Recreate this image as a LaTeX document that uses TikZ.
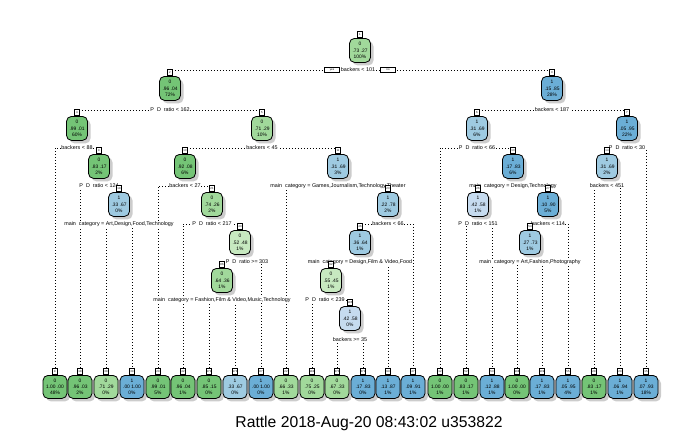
\documentclass[tikz,border=0pt]{standalone}
\usepackage{fontspec}
\setmainfont{Liberation Sans}
\usetikzlibrary{shadows,backgrounds}

% node fill colours (greens for class 0, blues for class 1)
\definecolor{gA}{HTML}{74C476}
\definecolor{gB}{HTML}{A1D99B}
\definecolor{gC}{HTML}{C7E9C0}
\definecolor{bA}{HTML}{6BAED6}
\definecolor{bB}{HTML}{9ECAE1}
\definecolor{bC}{HTML}{C6DBEF}

\newcommand\nodefont{\fontsize{4.9}{6.3}\selectfont}
\newcommand\tagfont{\fontsize{2.8}{3}\selectfont}
\newcommand\splitfont{\fontsize{5.4}{6}\selectfont}
% word gap as wide as an underscore
\newcommand\ug{\hphantom{\_}}

\tikzset{
  treebox/.style={draw=black, line width=0.8pt, rounded corners=5pt,
    minimum width=21pt, minimum height=24pt, inner sep=0.6pt,
    align=center, font=\nodefont, anchor=north,
    drop shadow={shadow xshift=3pt, shadow yshift=-3pt, fill=black!40, opacity=0.5}},
  leafbox/.style={treebox, minimum width=24pt, minimum height=23pt},
  tag/.style={draw=black, fill=white, line width=0.7pt, minimum width=5.5pt,
    minimum height=6.5pt, inner sep=0.4pt, font=\tagfont, anchor=south},
  branch/.style={line width=0.9pt, dash pattern=on 0.9pt off 2.1pt},
  splitlab/.style={fill=white, inner sep=0.5pt, font=\splitfont},
  yesno/.style={draw=black, fill=white, line width=0.7pt, minimum width=15pt,
    minimum height=5pt, inner sep=0.3pt, font=\tagfont},
}

% \tnode{name}{style}{colour}{position}{number}{text}
\newcommand\tnode[6]{%
  \node[#2, fill=#3] (#1) at #4 {#6};
  \node[tag] (#1t) at (#1.north) {#5};
}

\begin{document}
\begin{tikzpicture}[x=1pt, y=-1pt]
\useasboundingbox (0,0) rectangle (700,432);

% split labels
\node[splitlab] (s1) at (358,70) {backers < 101};
\node[yesno] (yes) at (332,70) {yes};
\node[yesno] (no) at (388,70) {no};
\node[splitlab] (s2) at (170,110) {P\ug D\ug ratio < 162};
\node[splitlab] (s3) at (552,110) {backers < 187};
\node[splitlab] (s4) at (77,148) {backers < 88};
\node[splitlab] (s5) at (262,148) {backers < 45};
\node[splitlab] (s6) at (477,148) {P\ug D\ug ratio < 66};
\node[splitlab] (s7) at (627,148) {P\ug D\ug ratio < 30};
\node[splitlab] (s9) at (99,186) {P\ug D\ug ratio < 124};
\node[splitlab] (s10) at (185,186) {backers < 27};
\node[splitlab] (s11) at (338,186) {main\ug category = Games,Journalism,Technology,Theater};
\node[splitlab] (s13) at (513,186) {main\ug category = Design,Technology};
\node[splitlab] (s14) at (607,186) {backers < 451};
\node[splitlab] (s19) at (119,224) {main\ug category = Art,Design,Food,Technology};
\node[splitlab] (s21) at (212,224) {P\ug D\ug ratio < 217};
\node[splitlab] (s23) at (388,224) {backers < 66};
\node[splitlab] (s26) at (478,224) {P\ug D\ug ratio < 151};
\node[splitlab] (s27) at (548,224) {backers < 114};
\node[splitlab] (s43) at (247,262) {P\ug D\ug ratio >= 303};
\node[splitlab] (s46) at (360,262) {main\ug category = Design,Film \& Video,Food};
\node[splitlab] (s54) at (530,262) {main\ug category = Art,Fashion,Photography};
\node[splitlab] (s86) at (222,300) {main\ug category = Fashion,Film \& Video,Music,Technology};
\node[splitlab] (s92) at (325,300) {P\ug D\ug ratio < 239};
\node[splitlab] (s185) at (350,340) {backers >= 35};

% internal nodes
\tnode{n1}{treebox}{gB}{(360,38)}{1}{0\\.73 .27\\100\%}
\tnode{n2}{treebox}{gA}{(170,76)}{2}{0\\.96 .04\\72\%}
\tnode{n3}{treebox}{bA}{(552,76)}{3}{1\\.15 .85\\28\%}
\tnode{n4}{treebox}{gA}{(77,116)}{4}{0\\.99 .01\\60\%}
\tnode{n5}{treebox}{gB}{(262,116)}{5}{0\\.71 .29\\10\%}
\tnode{n6}{treebox}{bB}{(477,116)}{6}{1\\.31 .69\\6\%}
\tnode{n7}{treebox}{bA}{(627,116)}{7}{1\\.05 .95\\22\%}
\tnode{n9}{treebox}{gA}{(99,154)}{9}{0\\.83 .17\\2\%}
\tnode{n10}{treebox}{gA}{(185,154)}{10}{0\\.92 .08\\6\%}
\tnode{n11}{treebox}{bB}{(338,154)}{11}{1\\.31 .69\\3\%}
\tnode{n13}{treebox}{bA}{(513,154)}{13}{1\\.17 .83\\6\%}
\tnode{n14}{treebox}{bB}{(607,154)}{14}{1\\.31 .69\\2\%}
\tnode{n19}{treebox}{bB}{(119,192)}{19}{1\\.33 .67\\0\%}
\tnode{n21}{treebox}{gB}{(212,192)}{21}{0\\.74 .26\\2\%}
\tnode{n23}{treebox}{bB}{(388,192)}{23}{1\\.22 .78\\2\%}
\tnode{n26}{treebox}{bC}{(478,192)}{26}{1\\.42 .58\\1\%}
\tnode{n27}{treebox}{bA}{(548,192)}{27}{1\\.10 .90\\5\%}
\tnode{n43}{treebox}{gC}{(240,230)}{43}{0\\.52 .48\\1\%}
\tnode{n46}{treebox}{bB}{(360,230)}{46}{1\\.36 .64\\1\%}
\tnode{n54}{treebox}{bB}{(530,230)}{54}{1\\.27 .73\\1\%}
\tnode{n86}{treebox}{gB}{(222,268)}{86}{0\\.64 .36\\1\%}
\tnode{n92}{treebox}{gC}{(331,268)}{92}{0\\.55 .45\\1\%}
\tnode{n185}{treebox}{bC}{(350,306)}{185}{1\\.42 .58\\0\%}

% leaves
\tnode{l8}{leafbox}{gA}{(55,375)}{8}{0\\1.00 .00\\48\%}
\tnode{l18}{leafbox}{gA}{(80,375)}{18}{0\\.96 .03\\2\%}
\tnode{l38}{leafbox}{gB}{(106,375)}{38}{0\\.71 .29\\0\%}
\tnode{l39}{leafbox}{bA}{(132,375)}{39}{1\\.00 1.00\\0\%}
\tnode{l20}{leafbox}{gA}{(158,375)}{20}{0\\.99 .01\\5\%}
\tnode{l42}{leafbox}{gA}{(183,375)}{42}{0\\.96 .04\\1\%}
\tnode{l172}{leafbox}{gA}{(209,375)}{172}{0\\.85 .15\\0\%}
\tnode{l173}{leafbox}{bB}{(235,375)}{173}{1\\.33 .67\\0\%}
\tnode{l87}{leafbox}{bA}{(261,375)}{87}{1\\.00 1.00\\0\%}
\tnode{l22}{leafbox}{gB}{(286,375)}{22}{0\\.66 .33\\1\%}
\tnode{l184}{leafbox}{gB}{(312,375)}{184}{0\\.75 .25\\0\%}
\tnode{l370}{leafbox}{gB}{(337,375)}{370}{0\\.67 .33\\0\%}
\tnode{l371}{leafbox}{bA}{(363,375)}{371}{1\\.17 .83\\0\%}
\tnode{l93}{leafbox}{bA}{(388,375)}{93}{1\\.13 .87\\1\%}
\tnode{l47}{leafbox}{bA}{(413,375)}{47}{1\\.09 .91\\1\%}
\tnode{l12}{leafbox}{gA}{(440,375)}{12}{0\\1.00 .00\\1\%}
\tnode{l52}{leafbox}{gA}{(466,375)}{52}{0\\.83 .17\\1\%}
\tnode{l53}{leafbox}{bA}{(492,375)}{53}{1\\.12 .88\\1\%}
\tnode{l108}{leafbox}{gA}{(517,375)}{108}{0\\1.00 .00\\0\%}
\tnode{l109}{leafbox}{bA}{(542,375)}{109}{1\\.17 .83\\1\%}
\tnode{l55}{leafbox}{bA}{(568,375)}{55}{1\\.05 .95\\4\%}
\tnode{l28}{leafbox}{gA}{(594,375)}{28}{0\\.83 .17\\1\%}
\tnode{l29}{leafbox}{bA}{(620,375)}{29}{1\\.06 .94\\1\%}
\tnode{l15}{leafbox}{bA}{(646,375)}{15}{1\\.07 .93\\18\%}

% dotted branches: down from each split label to both children
\begin{scope}[on background layer]
\foreach \s/\a/\b in {s1/n2/n3, s2/n4/n5, s3/n6/n7, s4/l8/n9, s5/n10/n11,
    s6/l12/n13, s7/n14/l15, s9/l18/n19, s10/l20/n21, s11/l22/n23,
    s13/n26/n27, s14/l28/l29, s19/l38/l39, s21/l42/n43, s23/n46/l47,
    s26/l52/l53, s27/n54/l55, s43/n86/l87, s46/n92/l93, s54/l108/l109,
    s86/l172/l173, s92/l184/n185, s185/l370/l371}
  \draw[branch] (\a t.north) |- (\s.center) -| (\b t.north);
\end{scope}

\node[font=\fontsize{15.7}{18}\selectfont, anchor=base] (title) at (369,427)
  {Rattle 2018-Aug-20 08:43:02 u353822};
\end{tikzpicture}
\end{document}
